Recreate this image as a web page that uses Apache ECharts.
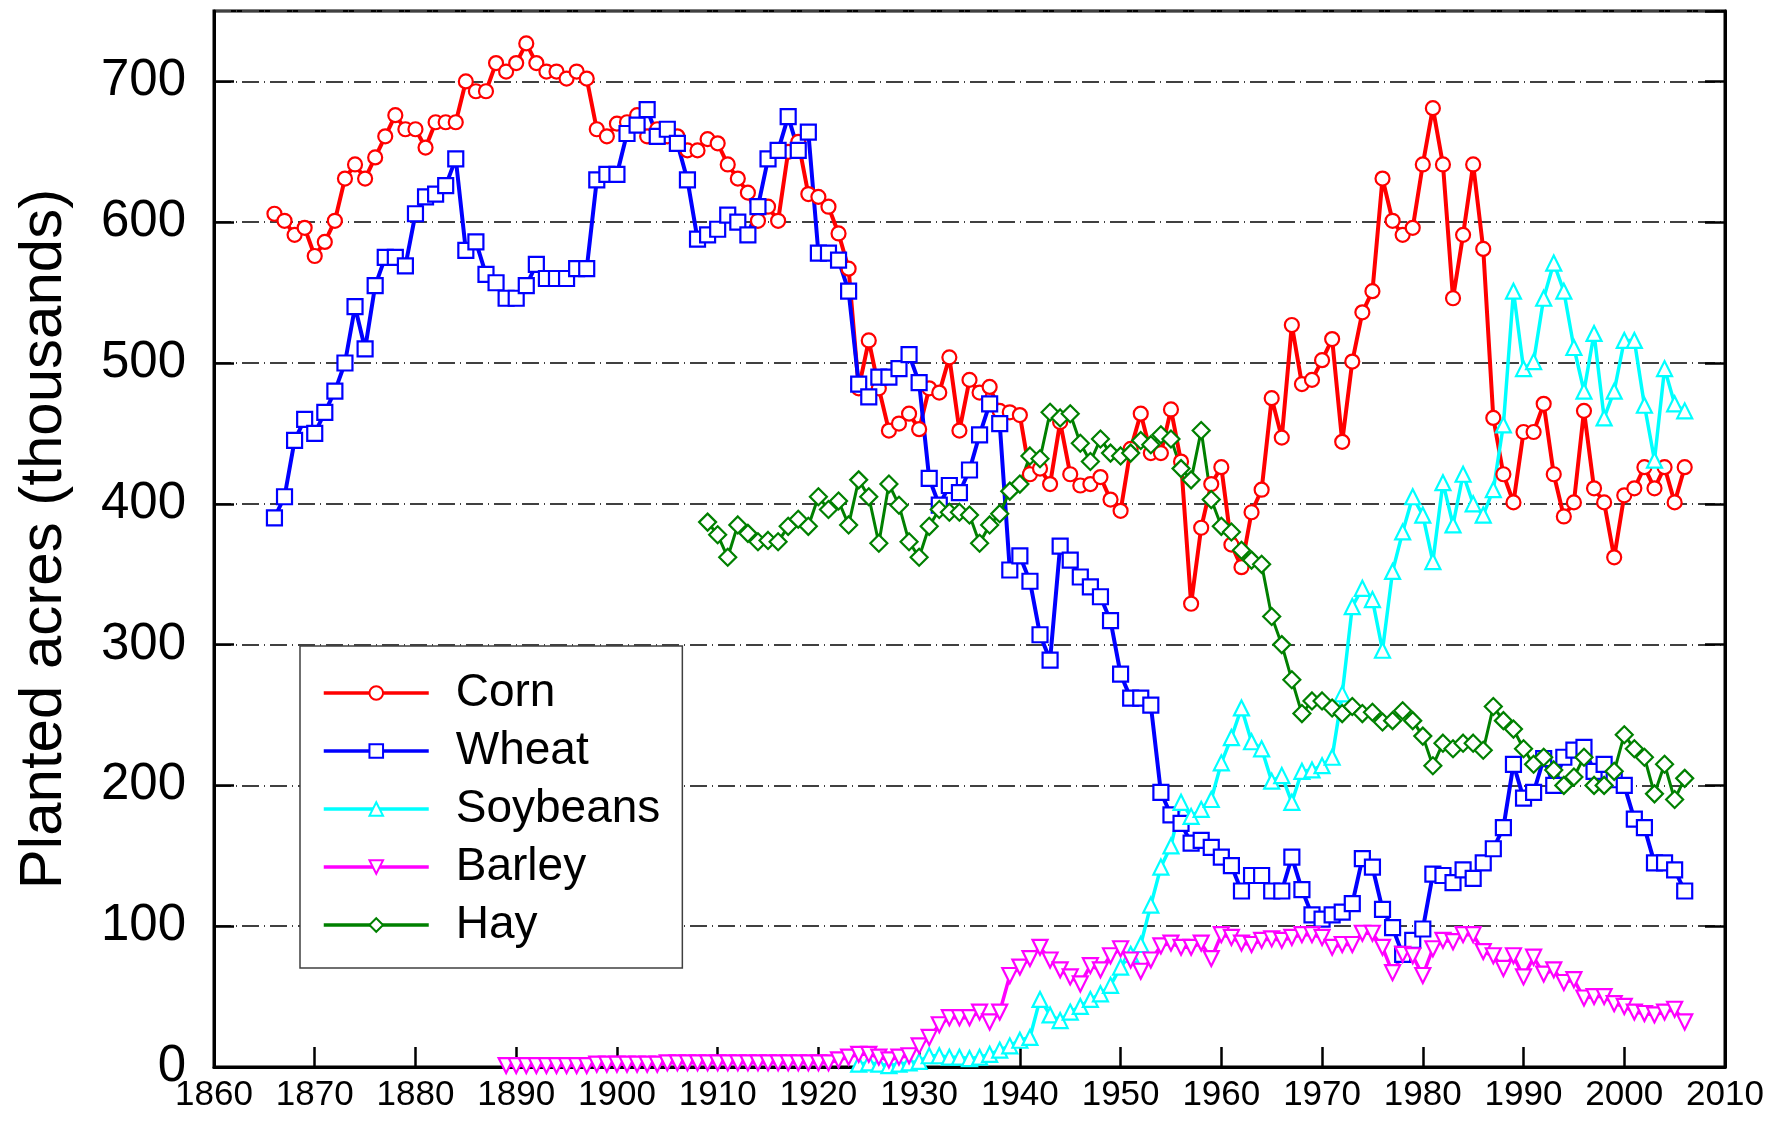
<!DOCTYPE html>
<html>
<head>
<meta charset="utf-8">
<title>Planted acres</title>
<script src="https://cdn.jsdelivr.net/npm/echarts@6/dist/echarts.min.js"></script>
<style>
  html, body { margin: 0; padding: 0; background: #fff; }
  #chart { width: 1771px; height: 1127px; }
</style>
</head>
<body>
<div id="chart"></div>
<script>
// planted acres (thousands), one value per year from each start year
const cornStart = 1866
const corn = [
  606, 601, 591, 596,
  576, 586, 601, 631, 641, 631, 646, 661, 676, 666,
  666, 653, 671, 671, 671, 700, 693, 693, 713, 707,
  713, 727, 713, 707, 707, 702, 707, 702, 666, 661,
  670, 671, 676, 661, 666, 661, 661, 651, 651, 659,
  656, 641, 631, 621, 601, 611, 601, 650, 657, 620,
  618, 611, 592, 567, 482, 516, 482, 452, 457, 464,
  453, 482, 479, 504, 452, 488, 479, 483, 466, 465,
  463, 421, 425, 414, 458, 421, 413, 414, 419, 403,
  395, 439, 464, 436, 436, 467, 430, 329, 383, 414,
  426, 371, 355, 394, 410, 475, 447, 527, 485, 488,
  502, 517, 444, 501, 536, 551, 631, 601, 591, 596,
  641, 681, 641, 546, 591, 641, 581, 461, 421, 401,
  451, 451, 471, 421, 391, 401, 466, 411, 401, 362,
  406, 411, 426, 411, 426, 401, 426
]

const wheatStart = 1866
const wheat = [
  390, 405, 445, 460,
  450, 465, 480, 500, 540, 510, 555, 575, 575, 569,
  606, 618, 620, 626, 645, 580, 586, 563, 557, 546,
  546, 555, 570, 560, 560, 560, 567, 567, 630, 634,
  634, 663, 669, 680, 661, 666, 656, 630, 588, 591,
  595, 605, 600, 591, 611, 645, 651, 675, 651, 664,
  578, 578, 573, 551, 485, 476, 490, 490, 496, 506,
  486, 418, 399, 413, 408, 424, 449, 471, 457, 353,
  363, 345, 307, 289, 370, 360, 348, 341, 334, 317,
  279, 262, 262, 257, 195, 179, 173, 159, 161, 156,
  149, 143, 125, 136, 136, 125, 125, 149, 126, 108,
  105, 108, 110, 116, 148, 142, 112, 99, 80, 90,
  98, 137, 136, 131, 140, 134, 145, 155, 170, 215,
  191, 195, 219, 200, 220, 225, 227, 210, 215, 204,
  200, 176, 170, 145, 145, 140, 125
]

const soyStart = 1924
const soybeans = [
  2, 3, 2, 1, 2, 3,
  4, 8, 8, 7, 7, 6, 7, 9, 12, 15,
  19, 21, 48, 37, 33, 39, 43, 48, 52, 58,
  71, 80, 87, 115, 142, 157, 188, 178, 183, 190,
  216, 234, 255, 231, 226, 203, 207, 188, 210, 211,
  214, 220, 265, 327, 340, 332, 296, 352, 380, 405,
  392, 359, 415, 385, 421, 400, 392, 410, 456, 551,
  496, 501, 546, 571, 551, 511, 480, 521, 461, 480,
  516, 516, 470, 431, 496, 471, 466
]

const barleyStart = 1889
const barley = [
  1, 1, 1, 1, 1, 1, 1, 1, 1, 2, 2,
  2, 2, 2, 2, 2, 3, 3, 3, 3, 3,
  3, 3, 3, 3, 3, 3, 3, 3, 3, 3,
  3, 3, 5, 7, 9, 9, 7, 5, 7, 8,
  15, 21, 30, 35, 35, 35, 39, 32, 39, 65,
  71, 77, 85, 76, 69, 64, 59, 72, 69, 79,
  84, 76, 68, 76, 86, 88, 85, 85, 88, 77,
  94, 92, 88, 87, 90, 91, 90, 92, 94, 94,
  92, 85, 87, 87, 95, 95, 85, 67, 80, 79,
  65, 84, 90, 89, 94, 94, 82, 79, 70, 79,
  64, 78, 66, 69, 60, 62, 49, 50, 50, 45,
  43, 39, 38, 37, 39, 41, 32
]

const hayStart = 1909
const hay = [
  387,
  378, 362, 385, 379, 373, 374, 373, 384, 389, 384,
  405, 396, 402, 385, 417, 405, 372, 414, 399, 373,
  362, 384, 396, 394, 394, 392, 372, 385, 393, 409,
  414, 434, 432, 465, 461, 464, 443, 430, 446, 436,
  434, 436, 445, 442, 449, 446, 425, 417, 452, 403,
  384, 380, 367, 360, 357, 320, 300, 275, 251, 260,
  260, 255, 251, 256, 251, 252, 245, 246, 253, 246,
  235, 214, 230, 226, 230, 230, 225, 256, 246, 240,
  226, 215, 220, 211, 200, 206, 220, 200, 200, 210,
  236, 226, 220, 194, 215, 190, 205
]

const FONT = 'Liberation Sans, Arial, sans-serif'

function pairs(start, values) {
  return values.map((v, i) => [start + i, v])
}

function makeSeries(name, start, values, color, symbol, size, width, rotate) {
  return {
    name: name,
    type: 'line',
    data: pairs(start, values),
    symbol: symbol,
    symbolSize: size,
    symbolRotate: rotate || 0,
    showAllSymbol: true,
    lineStyle: { color: color, width: width },
    itemStyle: { color: '#fff', borderColor: color, borderWidth: 2.2 },
    emphasis: { disabled: true }
  }
}

const chart = echarts.init(document.getElementById('chart'))

const gridLine = {
  show: true,
  lineStyle: { color: '#404040', width: 1.8, type: [17, 5, 1, 5] }
}

chart.setOption({
  animation: false,
  backgroundColor: '#fff',
  grid: {
    left: 214, right: 46, top: 11, bottom: 60,
    show: true, borderColor: '#000', borderWidth: 3, backgroundColor: 'transparent'
  },
  legend: {
    orient: 'vertical',
    left: 300,
    top: 646,
    padding: [22, 22, 18, 22],
    itemWidth: 105,
    itemHeight: 17,
    itemGap: 8,
    backgroundColor: '#fff',
    borderColor: '#404040',
    borderWidth: 1.5,
    borderRadius: 0,
    lineStyle: { width: 3.5 },
    textStyle: {
      fontFamily: FONT, fontSize: 46, color: '#000', lineHeight: 50,
      padding: [0, 0, 0, 22]
    },
    data: ['Corn', 'Wheat', 'Soybeans', 'Barley', 'Hay']
  },
  xAxis: {
    type: 'value',
    min: 1860,
    max: 2010,
    interval: 10,
    axisLine: { show: true, lineStyle: { color: '#000', width: 3 } },
    axisTick: { show: true, inside: true, length: 20, lineStyle: { color: '#000', width: 2.5 } },
    axisLabel: {
      fontFamily: FONT, fontSize: 35, color: '#000', margin: 11,
      formatter: v => String(v)
    },
    splitLine: { show: false }
  },
  yAxis: [
    {
      type: 'value',
      min: 0,
      max: 750,
      interval: 100,
      name: 'Planted acres (thousands)',
      nameLocation: 'middle',
      nameRotate: 90,
      nameGap: 140,
      nameTextStyle: { fontFamily: FONT, fontSize: 60, color: '#000' },
      axisLine: { show: true, lineStyle: { color: '#000', width: 3 } },
      axisTick: { show: true, inside: true, length: 20, lineStyle: { color: '#000', width: 2.5 } },
      axisLabel: { fontFamily: FONT, fontSize: 51, color: '#000', margin: 28, showMaxLabel: false },
      splitLine: gridLine
    },
    {
      type: 'value',
      position: 'right',
      min: 0,
      max: 750,
      interval: 100,
      axisLine: { show: true, lineStyle: { color: '#000', width: 3 } },
      axisTick: { show: true, inside: true, length: 20, lineStyle: { color: '#000', width: 2.5 } },
      axisLabel: { show: false },
      splitLine: { show: false }
    }
  ],
  series: [
    makeSeries('Corn', cornStart, corn, '#ff0000', 'circle', 14, 4),
    makeSeries('Wheat', wheatStart, wheat, '#0000ff', 'rect', 15, 4),
    makeSeries('Soybeans', soyStart, soybeans, '#00ffff', 'triangle', 15, 3.5),
    makeSeries('Barley', barleyStart, barley, '#ff00ff', 'triangle', 15, 3.5, 180),
    makeSeries('Hay', hayStart, hay, '#008000', 'diamond', 17, 3)
  ]
})
</script>
</body>
</html>
